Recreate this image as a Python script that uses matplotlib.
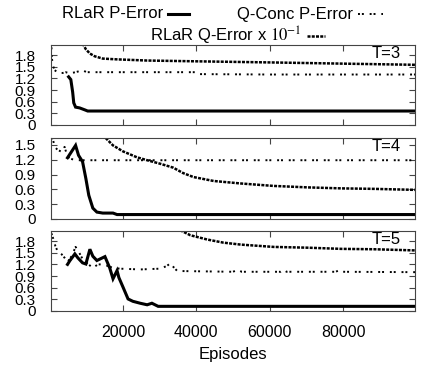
import numpy as np
import matplotlib
matplotlib.use("Agg")
from matplotlib import pyplot as plt
from matplotlib.lines import Line2D

plt.rcParams['font.family'] = ['Liberation Sans', 'DejaVu Sans']
plt.rcParams['mathtext.fontset'] = 'stix'

# --- data (episodes, error) ---
# T=3
p3_x = [5200, 5800, 6300, 6600, 7100, 8200, 9600, 10400, 99600]
p3_y = [1.24, 1.17, 0.85, 0.57, 0.46, 0.44, 0.39, 0.36, 0.36]
qc3_x = [500, 600, 900, 1400, 2500, 3600, 4400, 5500, 7100, 9000, 10100, 14000, 30000, 40000, 41000, 60000, 80000, 99600]
qc3_y = [2.10, 1.75, 1.54, 1.41, 1.34, 1.34, 1.36, 1.33, 1.36, 1.41, 1.36, 1.36, 1.36, 1.36, 1.31, 1.30, 1.30, 1.30]
q3_x = [9000, 9900, 11000, 12300, 14500, 18400, 26600, 40000, 61000, 80000, 99600]
q3_y = [2.10, 1.95, 1.84, 1.77, 1.71, 1.69, 1.66, 1.64, 1.61, 1.58, 1.55]

# T=4
p4_x = [4900, 7100, 7900, 9000, 9900, 10700, 11800, 12900, 14500, 17300, 18400, 99600]
p4_y = [1.24, 1.49, 1.29, 1.16, 0.82, 0.48, 0.22, 0.14, 0.12, 0.12, 0.09, 0.09]
qc4_x = [500, 900, 1400, 2200, 3300, 4100, 4900, 5800, 7000, 30000, 60000, 99600]
qc4_y = [1.64, 1.62, 1.46, 1.40, 1.36, 1.46, 1.26, 1.22, 1.19, 1.19, 1.19, 1.19]
q4_x = [15300, 17300, 20000, 23800, 26600, 30100, 33700, 36400, 39200, 44700, 52000, 61000, 70400, 79500, 88500, 99600]
q4_y = [1.64, 1.49, 1.37, 1.25, 1.19, 1.12, 1.04, 0.93, 0.85, 0.77, 0.72, 0.67, 0.64, 0.62, 0.61, 0.59]

# T=5
p5_x = [4900, 5500, 6900, 7700, 9000, 9900, 11000, 11800, 12900, 15100, 16400, 17300, 18400, 18900,
        20000, 21400, 22700, 24700, 26600, 27900, 29600, 99600]
p5_y = [1.20, 1.29, 1.47, 1.37, 1.24, 1.21, 1.59, 1.41, 1.30, 1.40, 1.11, 0.83, 1.04, 0.86,
        0.62, 0.31, 0.25, 0.20, 0.16, 0.20, 0.12, 0.12]
qc5_x = [500, 1100, 1600, 2200, 3300, 4100, 4900, 6000, 7100, 7700, 9000, 10100, 11800, 13200, 14500,
         15900, 17300, 19200, 24700, 30100, 32000, 32900, 33700, 34800, 50000, 51200, 52400, 63000,
         63800, 64600, 78000, 78900, 79800, 99600]
qc5_y = [2.00, 1.84, 1.67, 1.54, 1.46, 1.37, 1.26, 1.41, 1.65, 1.57, 1.34, 1.24, 1.11, 1.20, 1.20,
         1.16, 1.11, 1.09, 1.07, 1.09, 1.16, 1.23, 1.14, 1.03, 1.01, 1.06, 1.01, 1.01,
         1.06, 1.01, 1.01, 1.05, 1.01, 1.00]
q5_x = [35600, 38400, 43000, 47400, 52100, 61100, 70400, 79500, 88500, 99600]
q5_y = [2.08, 1.95, 1.84, 1.76, 1.71, 1.65, 1.63, 1.60, 1.59, 1.56]

panels = [
    ("T=3", p3_x, p3_y, qc3_x, qc3_y, q3_x, q3_y, 2.06, [0, 0.3, 0.6, 0.9, 1.2, 1.5, 1.8]),
    ("T=4", p4_x, p4_y, qc4_x, qc4_y, q4_x, q4_y, 1.64, [0, 0.3, 0.6, 0.9, 1.2, 1.5]),
    ("T=5", p5_x, p5_y, qc5_x, qc5_y, q5_x, q5_y, 2.06, [0, 0.3, 0.6, 0.9, 1.2, 1.5, 1.8]),
]
xticks = [20000, 40000, 60000, 80000]

W, H = 424, 371
fig = plt.figure(figsize=(W / 100, H / 100), dpi=100)

# axes boxes in pixels (top, bottom)
boxes = [(45, 125), (138, 219), (231, 311)]
left, right = 51, 415

solid = dict(color='black', lw=2.2, solid_joinstyle='miter')
dotted = dict(color='black', lw=1.4, dashes=(1, 1, 1, 3))
dashed = dict(color='black', lw=1.8, dashes=(1.2, 0.5))

for i, (lab, px, py, cx, cy, qx, qy, ytop, yt) in enumerate(panels):
    top, bot = boxes[i]
    ax = fig.add_axes([left / W, 1 - bot / H, (right - left) / W, (bot - top) / H])
    ax.plot(cx, cy, **dotted)
    ax.plot(qx, qy, **dashed)
    ax.plot(px, py, **solid)
    ax.set_xlim(400, 99600)
    ax.set_ylim(0, ytop)
    ax.set_xticks(xticks)
    ax.set_yticks(yt)
    ax.set_yticklabels([f"{v:g}" for v in yt])
    ax.tick_params(direction='in', top=True, right=True, length=4, width=0.8, color='#444')
    ax.tick_params(axis='y', labelsize=11, pad=11)
    ax.tick_params(axis='x', labelsize=11.5, pad=10)
    for s in ax.spines.values():
        s.set_color('#444')
        s.set_linewidth(0.8)
    if i < 2:
        ax.set_xticklabels([])
    else:
        ax.set_xlabel("Episodes", fontsize=12, labelpad=5)
    ax.text(0.96, 0.89, lab, transform=ax.transAxes, ha='right', va='center', fontsize=12)

# key at the top (text then sample, gnuplot style)
def key(text, x_end, y, style, length=21):
    fig.text(x_end / W, 1 - y / H, text, ha='right', va='center', fontsize=12)
    fig.add_artist(Line2D([(x_end + 5) / W, (x_end + 5 + length) / W], [1 - y / H, 1 - y / H],
                          transform=fig.transFigure, **style))

key("RLaR P-Error", 163, 14, solid)
key("Q-Conc P-Error", 353, 14, dotted, 25)
key(r"RLaR Q-Error x $10^{-1}$", 302, 36, dashed, 18)

fig.savefig("out.png", dpi=100)
